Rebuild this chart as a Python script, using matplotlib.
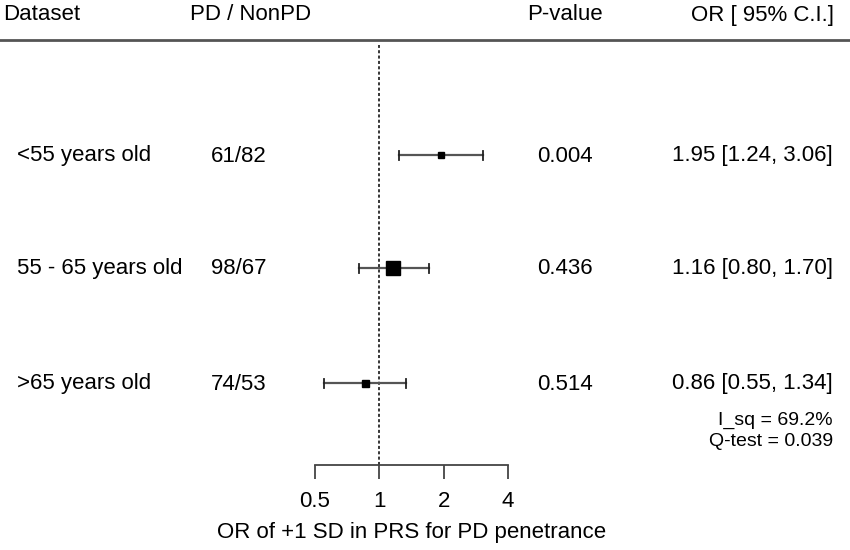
import matplotlib
matplotlib.use("Agg")
import matplotlib.pyplot as plt
import numpy as np

plt.rcParams['font.family'] = ['Liberation Sans', 'DejaVu Sans']

datasets = ["<55 years old", "55 - 65 years old", ">65 years old"]
counts = ["61/82", "98/67", "74/53"]
pvalues = ["0.004", "0.436", "0.514"]
or_vals = [1.95, 1.16, 0.86]
ci_low = [1.24, 0.80, 0.55]
ci_high = [3.06, 1.70, 1.34]
box_sizes = [6, 14, 7]  # in pixels
xticks = [0.5, 1, 2, 4]
xtick_labels = ["0.5", "1", "2", "4"]
i_sq = "I_sq = 69.2%"
q_test = "Q-test = 0.039"

W, H = 850, 550
fig = plt.figure(figsize=(W / 100, H / 100), dpi=100)

def fx(px):
    return px / W

def fy(py):
    return 1 - py / H

FS = 16

# forest axes
ax_left, ax_right, ax_top, ax_bot = 315, 508, 45, 465
ax = fig.add_axes([fx(ax_left), fy(ax_bot), fx(ax_right - ax_left), (ax_bot - ax_top) / H])
ax.set_xscale('log', base=2)
ax.set_xlim(0.5, 4)
row_y = [155, 268, 383]
ax.set_ylim(ax_bot, ax_top)
ax.patch.set_alpha(0)
for s in ['top', 'left', 'right']:
    ax.spines[s].set_visible(False)
ax.spines['bottom'].set_linewidth(1.3)
ax.spines['bottom'].set_color('#444444')
ax.set_yticks([])
ax.set_xticks(xticks)
ax.set_xticklabels(xtick_labels, fontsize=FS)
ax.xaxis.set_minor_locator(matplotlib.ticker.NullLocator())
ax.tick_params(axis='x', direction='out', length=10, width=1.3, color='#444444', pad=9)
ax.set_xlabel("OR of +1 SD in PRS for PD penetrance", fontsize=FS, labelpad=7)

ax.axvline(1, color='black', linestyle=(0, (2, 1.5)), linewidth=1.1, zorder=1)

for i in range(3):
    y = row_y[i]
    ax.plot([ci_low[i], ci_high[i]], [y, y], color='#555555', lw=1.6, zorder=2, clip_on=False)
    ax.plot([ci_low[i], ci_low[i]], [y - 4.5, y + 4.5], color='#222222', lw=1.3, zorder=2, clip_on=False)
    ax.plot([ci_high[i], ci_high[i]], [y - 4.5, y + 4.5], color='#222222', lw=1.3, zorder=2, clip_on=False)
    ax.plot([or_vals[i]], [y], marker='s', markersize=box_sizes[i] * 0.72, color='black',
            zorder=3, clip_on=False)

# header
fig.text(fx(3), fy(15), "Dataset", fontsize=FS, va='center', ha='left')
fig.text(fx(190), fy(15), "PD / NonPD", fontsize=FS, va='center', ha='left')
fig.text(fx(527), fy(15), "P-value", fontsize=FS, va='center', ha='left')
fig.text(fx(834), fy(15), "OR [ 95% C.I.]", fontsize=FS, va='center', ha='right')
fig.add_artist(matplotlib.lines.Line2D([0, 1], [fy(40), fy(40)], color='#555555', lw=2))

for i in range(3):
    y = row_y[i] + 1
    fig.text(fx(17), fy(y), datasets[i], fontsize=FS, va='center', ha='left')
    fig.text(fx(211), fy(y), counts[i], fontsize=FS, va='center', ha='left')
    fig.text(fx(537), fy(y), pvalues[i], fontsize=FS, va='center', ha='left')
    fig.text(fx(833), fy(y), f"{or_vals[i]:.2f} [{ci_low[i]:.2f}, {ci_high[i]:.2f}]",
             fontsize=FS, va='center', ha='right')

fig.text(fx(833), fy(420), i_sq, fontsize=FS - 2, va='center', ha='right')
fig.text(fx(833), fy(441), q_test, fontsize=FS - 2, va='center', ha='right')

fig.savefig("out.png", dpi=100)
